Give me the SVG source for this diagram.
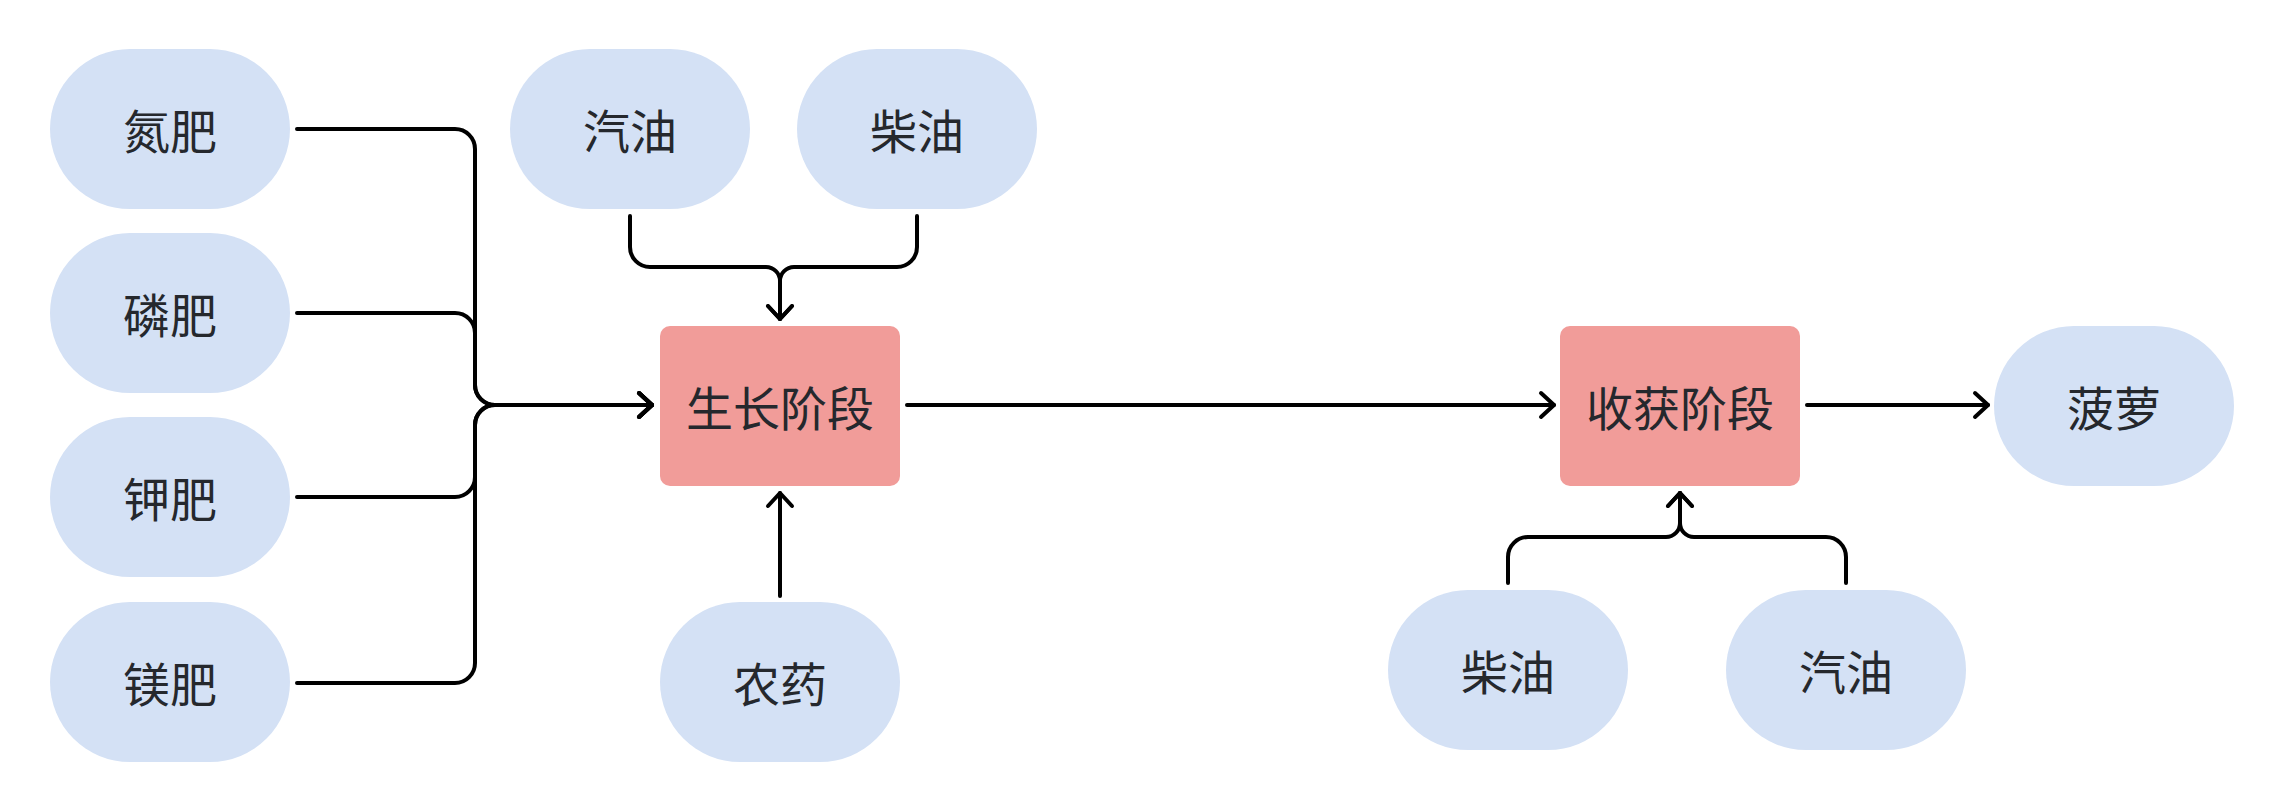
<svg xmlns="http://www.w3.org/2000/svg" width="2280" height="810" viewBox="0 0 2280 810">
<defs>
<style>
.pill{fill:#d4e1f5;}
.stage{fill:#f19c99;}
.lbl{font-family:"Noto Sans CJK SC","Noto Sans",sans-serif;font-size:47px;fill:#25282d;text-anchor:middle;}
.edge{fill:none;stroke:#000;stroke-width:4;stroke-linecap:round;stroke-linejoin:round;marker-end:url(#arr);}
</style>
<marker id="arr" markerUnits="userSpaceOnUse" markerWidth="30" markerHeight="30" viewBox="-16 -15 20 30" refX="0" refY="0" orient="auto">
<path d="M-13,-12 L0,0 L-13,12" fill="none" stroke="#000" stroke-width="4" stroke-linecap="round" stroke-linejoin="round"/>
</marker>
</defs>
<rect width="2280" height="810" fill="#fff"/>
<g id="connectors">
<path class="edge" d="M297,129 H455 A20,20 0 0 1 475,149 V385 A20,20 0 0 0 495,405 H652"/>
<path class="edge" d="M297,313 H455 A20,20 0 0 1 475,333 V385 A20,20 0 0 0 495,405 H652"/>
<path class="edge" d="M297,497 H455 A20,20 0 0 0 475,477 V425 A20,20 0 0 1 495,405 H652"/>
<path class="edge" d="M297,683 H455 A20,20 0 0 0 475,663 V425 A20,20 0 0 1 495,405 H652"/>
<path class="edge" d="M630,216 V247 A20,20 0 0 0 650,267 H766 A14,14 0 0 1 780,281 V319"/>
<path class="edge" d="M917,216 V247 A20,20 0 0 1 897,267 H794 A14,14 0 0 0 780,281 V319"/>
<path class="edge" d="M780,596 V493"/>
<path class="edge" d="M907,405 H1554"/>
<path class="edge" d="M1807,405 H1988"/>
<path class="edge" d="M1508,583 V557 A20,20 0 0 1 1528,537 H1666 A14,14 0 0 0 1680,523 V493"/>
<path class="edge" d="M1846,583 V557 A20,20 0 0 0 1826,537 H1694 A14,14 0 0 1 1680,523 V493"/>
</g>
<g id="n-danfei"><rect class="pill" x="50" y="49" width="240" height="160" rx="80"/><text class="lbl" x="170" y="149">氮肥</text></g>
<g id="n-linfei"><rect class="pill" x="50" y="233" width="240" height="160" rx="80"/><text class="lbl" x="170" y="333">磷肥</text></g>
<g id="n-jiafei"><rect class="pill" x="50" y="417" width="240" height="160" rx="80"/><text class="lbl" x="170" y="517">钾肥</text></g>
<g id="n-meifei"><rect class="pill" x="50" y="602" width="240" height="160" rx="80"/><text class="lbl" x="170" y="702">镁肥</text></g>
<g id="n-qiyou1"><rect class="pill" x="510" y="49" width="240" height="160" rx="80"/><text class="lbl" x="630" y="149">汽油</text></g>
<g id="n-chaiyou1"><rect class="pill" x="797" y="49" width="240" height="160" rx="80"/><text class="lbl" x="917" y="149">柴油</text></g>
<g id="n-growth"><rect class="stage" x="660" y="326" width="240" height="160" rx="10"/><text class="lbl" x="780" y="426">生长阶段</text></g>
<g id="n-nongyao"><rect class="pill" x="660" y="602" width="240" height="160" rx="80"/><text class="lbl" x="780" y="702">农药</text></g>
<g id="n-harvest"><rect class="stage" x="1560" y="326" width="240" height="160" rx="10"/><text class="lbl" x="1680" y="426">收获阶段</text></g>
<g id="n-boluo"><rect class="pill" x="1994" y="326" width="240" height="160" rx="80"/><text class="lbl" x="2114" y="426">菠萝</text></g>
<g id="n-chaiyou2"><rect class="pill" x="1388" y="590" width="240" height="160" rx="80"/><text class="lbl" x="1508" y="690">柴油</text></g>
<g id="n-qiyou2"><rect class="pill" x="1726" y="590" width="240" height="160" rx="80"/><text class="lbl" x="1846" y="690">汽油</text></g>
</svg>
